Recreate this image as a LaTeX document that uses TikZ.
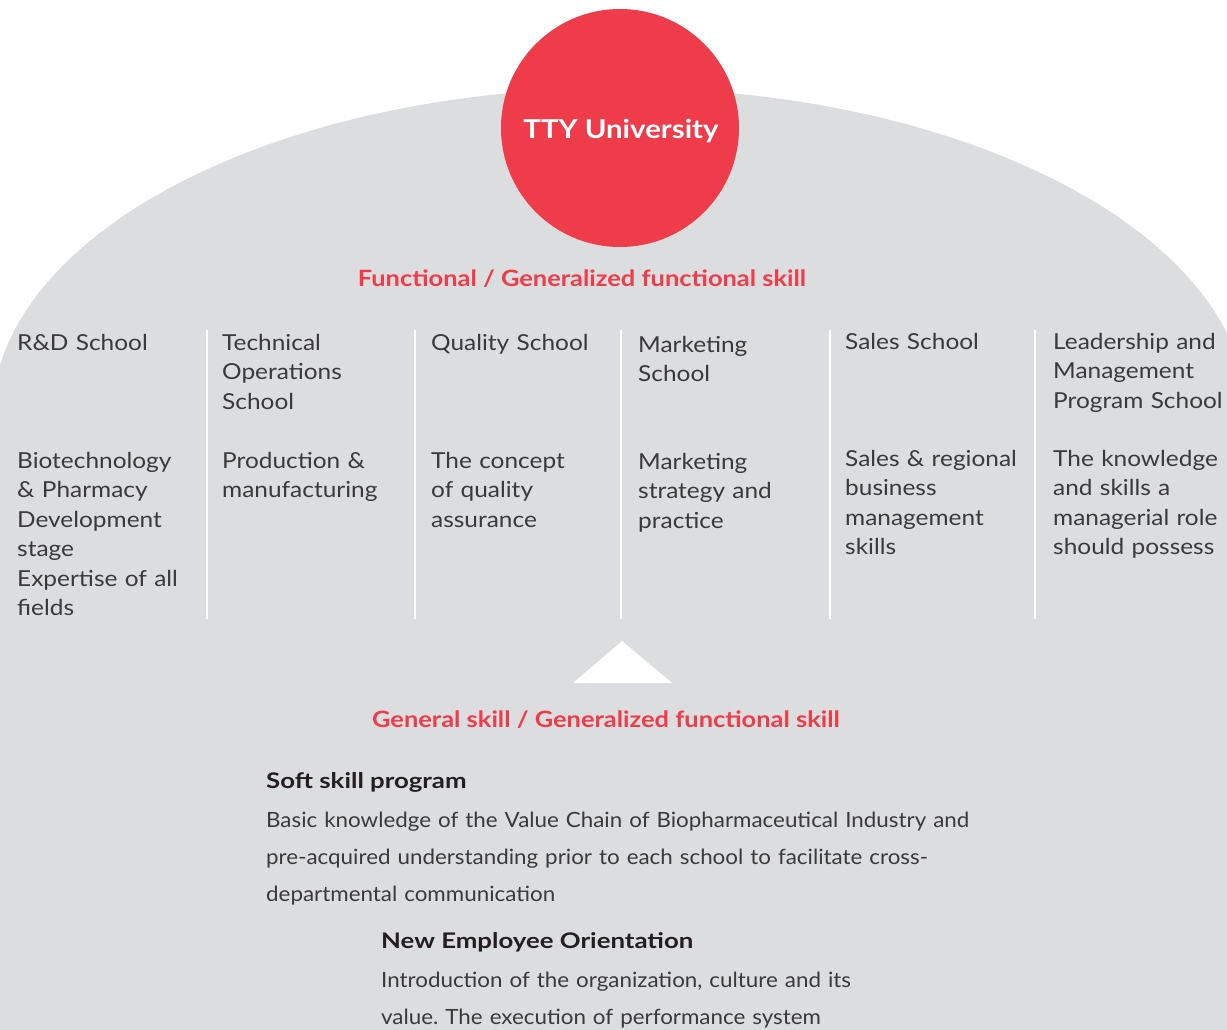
\documentclass[tikz,border=0pt]{standalone}
\usepackage{fontspec}
\setmainfont{Lato}
\newfontfamily\schoolfont[FakeStretch=1.11]{Lato}
\newfontfamily\bodyfont[FakeStretch=1.065]{Lato}
\newfontfamily\headfont[FakeStretch=1.13]{Lato}
\newfontfamily\progfont[FakeStretch=1.2]{Lato}
\frenchspacing
\usepackage{tikz}
\definecolor{ttyred}{HTML}{EE3C4A}
\definecolor{archgray}{HTML}{DCDDDF}
\definecolor{bodytext}{HTML}{3A3A3A}
\definecolor{headtext}{HTML}{231F20}

\begin{document}
\begin{tikzpicture}[x=1pt,y=-1pt,
  school/.style={anchor=base west,inner sep=0pt,text width=200pt,align=left,
    text=bodytext,font=\schoolfont\fontsize{22}{29.5}\selectfont},
  redhead/.style={inner sep=0pt,text=ttyred,font=\headfont\fontsize{22.5}{26}\selectfont\bfseries},
  prog/.style={anchor=base west,inner sep=0pt,text=headtext,
    font=\progfont\fontsize{21.5}{25}\selectfont\bfseries},
  progtext/.style={anchor=base west,inner sep=0pt,align=left,text=bodytext,
    font=\bodyfont\fontsize{21}{37}\selectfont}]
\useasboundingbox (0,0) rectangle (1227,1030);
% grey arch
\fill[archgray] (620,418) ellipse [x radius=628pt, y radius=330pt];
\fill[archgray] (-10,418) rectangle (1240,1030);

% university
\node[circle,fill=ttyred,minimum size=238pt,inner sep=0pt] (tty) at (620,128) {};
\node[text=white,inner sep=0pt,font=\headfont\fontsize{26}{30}\selectfont\bfseries]
  (ttytext) at (621,131) {TTY University};

\node[redhead] (func) at (582,279) {Functional / Generalized functional skill};

% column separators
\foreach \x in {207,415,621,830,1035} {
    \draw[white,line width=2pt] (\x,330) -- (\x,619);
}

% schools
\node[school] (sch1) at (17,350) {R\&D School};
\node[school] (sch2) at (222,350) {Technical\\Operations\\School};
\node[school] (sch3) at (431,350) {Quality School};
\node[school] (sch4) at (638,352) {Marketing\\School};
\node[school] (sch5) at (845,349) {Sales School};
\node[school] (sch6) at (1053,349) {Leadership and\\Management\\Program School};

% what each school teaches
\node[school] (desc1) at (17,468) {Biotechnology\\\& Pharmacy\\Development\\stage\\Expertise of all\\fields};
\node[school] (desc2) at (222,468) {Production \&\\manufacturing};
\node[school] (desc3) at (431,468) {The concept\\of quality\\assurance};
\node[school] (desc4) at (638,469) {Marketing\\strategy and\\practice};
\node[school] (desc5) at (845,466) {Sales \& regional\\business\\management\\skills};
\node[school] (desc6) at (1053,466) {The knowledge\\and skills a\\managerial role\\should possess};

% general skill
\fill[white] (622,641) -- (672,683) -- (573,683) -- cycle;
\node[redhead] (gen) at (606,720) {General skill / Generalized functional skill};

\node[prog] (soft) at (266,788) {Soft skill program};
\node[progtext,text width=760pt] (softtext) at (266,827)
  {Basic knowledge of the Value Chain of Biopharmaceutical Industry and\\
   pre-acquired understanding prior to each school to facilitate cross-\\
   departmental communication};

\node[prog] (neo) at (381,948) {New Employee Orientation};
\node[progtext,text width=560pt] (neotext) at (381,987)
  {Introduction of the organization, culture and its\\
   value. The execution of performance system};
\end{tikzpicture}
\end{document}
